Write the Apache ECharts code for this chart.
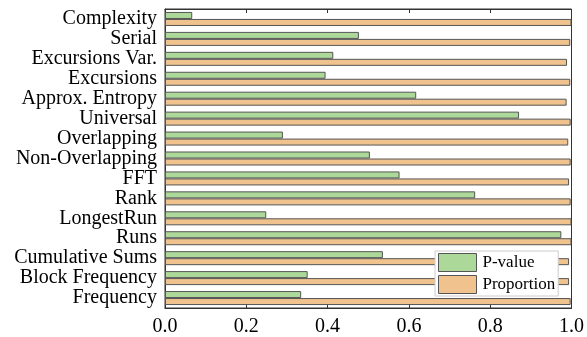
<!DOCTYPE html>
<html>
<head>
<meta charset="utf-8">
<script src="https://cdn.jsdelivr.net/npm/echarts@6/dist/echarts.min.js"></script>
<style>
html,body{margin:0;padding:0;background:#fff;}
#chart{width:587px;height:337px;}
</style>
</head>
<body>
<div id="chart"></div>
<script>
const categories = ["Complexity","Serial","Excursions Var.","Excursions","Approx. Entropy","Universal","Overlapping","Non-Overlapping","FFT","Rank","LongestRun","Runs","Cumulative Sums","Block Frequency","Frequency"];
const pValue = [0.067,0.477,0.414,0.395,0.618,0.871,0.290,0.504,0.577,0.763,0.249,0.975,0.536,0.351,0.335];
const proportion = [1.0,0.997,0.989,0.997,0.988,0.998,0.992,0.998,0.994,0.998,1.0,1.0,0.994,0.994,0.998];
const xTicks = [0.0,0.2,0.4,0.6,0.8,1.0];

const font = "Liberation Serif";
const chart = echarts.init(document.getElementById('chart'), null, {renderer:'canvas'});
chart.setOption({
  animation:false,
  backgroundColor:'#fff',
  grid:{left:165,right:14,top:9,bottom:28,show:true,borderColor:'#333',borderWidth:1,backgroundColor:'transparent'},
  legend:{
    orient:'vertical', left:435, top:251,
    itemWidth:38, itemHeight:18, itemGap:3, icon:'rect',
    padding:[2,3,2,3],
    backgroundColor:'#fff', borderColor:'#ccc', borderWidth:1, borderRadius:0,
    textStyle:{fontFamily:font,fontSize:17,color:'#000',padding:[0,0,0,1]},
    itemStyle:{borderColor:'#555',borderWidth:1},
    data:['P-value','Proportion']
  },
  xAxis:[{
    type:'value', min:0, max:1, interval:0.2, position:'bottom',
    axisLine:{show:true,lineStyle:{color:'#333',width:1}},
    axisTick:{show:true,inside:true,length:4,lineStyle:{color:'#333'}},
    splitLine:{show:false},
    axisLabel:{fontFamily:font,fontSize:20,color:'#000',margin:9,
      formatter:v=>{const t=xTicks.find(x=>Math.abs(x-v)<1e-9);return (t===undefined?v:t).toFixed(1);}}
  },{
    type:'value', min:0, max:1, interval:0.2, position:'top',
    axisLine:{show:true,lineStyle:{color:'#333',width:1}},
    axisTick:{show:true,inside:true,length:4,lineStyle:{color:'#333'}},
    splitLine:{show:false}, axisLabel:{show:false}
  }],
  yAxis:{
    type:'category', data:categories, inverse:true,
    axisLine:{show:true,lineStyle:{color:'#333'}},
    axisTick:{show:false},
    axisLabel:{fontFamily:font,fontSize:20,color:'#000',margin:8,interval:0}
  },
  series:[{
    name:'P-value', type:'bar', data:pValue, barWidth:7, barGap:'0%',
    itemStyle:{color:'#acd899',borderColor:'#555',borderWidth:1}
  },{
    name:'Proportion', type:'bar', data:proportion, barWidth:7, barGap:'0%',
    itemStyle:{color:'#f0c38e',borderColor:'#555',borderWidth:1}
  }]
});
</script>
</body>
</html>
